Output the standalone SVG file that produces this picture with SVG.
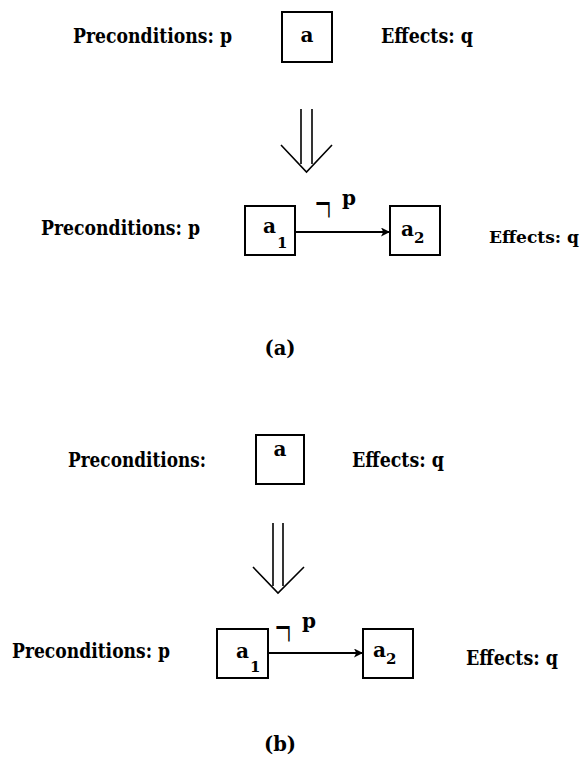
<svg xmlns="http://www.w3.org/2000/svg" width="588" height="776" viewBox="0 0 588 776">
  <style>
    text { font-family: "DejaVu Serif", "Liberation Serif", serif; font-weight: bold; fill: #000; }
    .lbl { font-size: 19.5px; }
    .lbl-narrow { font-size: 17px; }
    .node { font-size: 20px; }
    .sub { font-size: 15px; }
    .neg { font-family: "Liberation Serif", serif; font-size: 24px; font-weight: normal; }
    rect.box { fill: #fff; stroke: #000; stroke-width: 2; }
    .edge { stroke: #000; stroke-width: 2; fill: none; }
    .refine { stroke: #000; stroke-width: 1.6; fill: none; }
  </style>
  <defs>
    <marker id="head" viewBox="0 0 10 10" refX="10" refY="5" markerWidth="11" markerHeight="9" markerUnits="userSpaceOnUse" orient="auto">
      <path d="M0,0 L10,5 L0,10 L2.5,5 Z" fill="#000"/>
    </marker>
  </defs>

  <!-- part (a) -->
  <text class="lbl" x="73" y="43" textLength="159" lengthAdjust="spacingAndGlyphs">Preconditions: p</text>
  <g id="a_top">
    <rect class="box" x="282" y="12" width="50" height="50"/>
    <text class="node" x="307" y="42" text-anchor="middle">a</text>
  </g>
  <text class="lbl" x="381" y="43" textLength="92" lengthAdjust="spacingAndGlyphs">Effects: q</text>

  <g id="refine_a">
    <line class="refine" x1="301" y1="109" x2="301" y2="164"/>
    <line class="refine" x1="312" y1="109" x2="312" y2="164"/>
    <polyline class="refine" points="281,145 306.5,172 332,145"/>
  </g>

  <text class="lbl" x="41" y="235" textLength="159" lengthAdjust="spacingAndGlyphs">Preconditions: p</text>
  <g id="a1_top">
    <rect class="box" x="245" y="206" width="50" height="49"/>
    <text class="node" x="263" y="233" textLength="13" lengthAdjust="spacingAndGlyphs">a</text>
    <text class="sub" x="277" y="248">1</text>
  </g>
  <g id="a2_top">
    <rect class="box" x="390" y="206" width="50" height="49"/>
    <text class="node" x="401" y="236" textLength="13" lengthAdjust="spacingAndGlyphs">a</text>
    <text class="sub" x="414" y="243">2</text>
  </g>
  <text class="lbl-narrow" x="489" y="243" textLength="90" lengthAdjust="spacingAndGlyphs">Effects: q</text>
  <text class="lbl" x="280" y="355" text-anchor="middle">(a)</text>

  <!-- part (b) -->
  <text class="lbl" x="68" y="467" textLength="138" lengthAdjust="spacingAndGlyphs">Preconditions:</text>
  <g id="b_top">
    <rect class="box" x="256" y="435" width="48" height="49"/>
    <text class="node" x="280" y="456" text-anchor="middle">a</text>
  </g>
  <text class="lbl" x="352" y="467" textLength="92" lengthAdjust="spacingAndGlyphs">Effects: q</text>

  <g id="refine_b">
    <line class="refine" x1="273" y1="523" x2="273" y2="586"/>
    <line class="refine" x1="283" y1="523" x2="283" y2="586"/>
    <polyline class="refine" points="253,567 278,593 304,567"/>
  </g>

  <text class="lbl" x="12" y="658" textLength="158" lengthAdjust="spacingAndGlyphs">Preconditions: p</text>
  <g id="b1">
    <rect class="box" x="217" y="629" width="51" height="49"/>
    <text class="node" x="236" y="658" textLength="13" lengthAdjust="spacingAndGlyphs">a</text>
    <text class="sub" x="250" y="672">1</text>
  </g>
  <g id="b2">
    <rect class="box" x="363" y="629" width="50" height="49"/>
    <text class="node" x="373" y="657" textLength="13" lengthAdjust="spacingAndGlyphs">a</text>
    <text class="sub" x="386" y="664">2</text>
  </g>
  <text class="lbl" x="466" y="665" textLength="92" lengthAdjust="spacingAndGlyphs">Effects: q</text>
  <text class="lbl" x="280" y="751" text-anchor="middle">(b)</text>

  <!-- ordering links between the split actions -->
  <g id="connectors">
    <line class="edge" x1="295" y1="232" x2="390" y2="232" marker-end="url(#head)"/>
    <text class="neg" transform="translate(315,222.6) scale(1,2.5)" x="0" y="0" textLength="16" lengthAdjust="spacingAndGlyphs">¬</text>
    <text class="node" x="342" y="205">p</text>

    <line class="edge" x1="268" y1="653" x2="363" y2="653" marker-end="url(#head)"/>
    <text class="neg" transform="translate(275,646.6) scale(1,2.5)" x="0" y="0" textLength="16" lengthAdjust="spacingAndGlyphs">¬</text>
    <text class="node" x="302" y="628">p</text>
  </g>
</svg>
